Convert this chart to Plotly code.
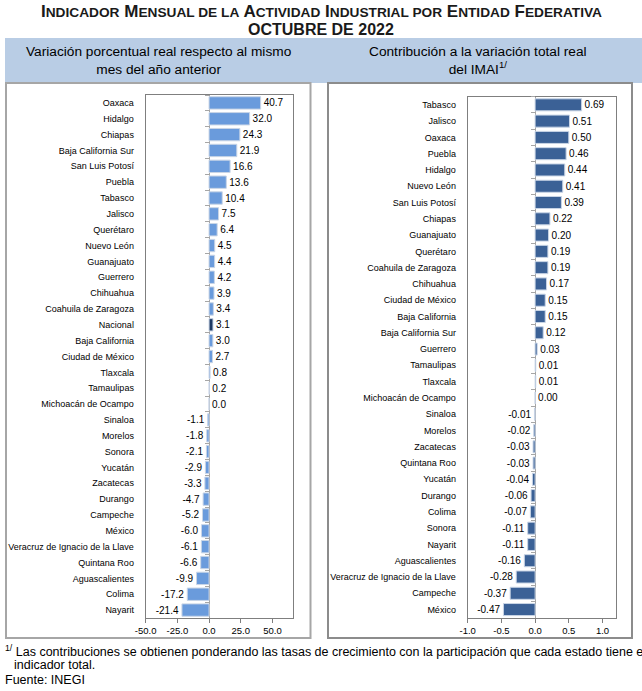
import plotly.graph_objects as go

# ---------------- data ----------------
left_states = ["Oaxaca", "Hidalgo", "Chiapas", "Baja California Sur", "San Luis Potosí",
               "Puebla", "Tabasco", "Jalisco", "Querétaro", "Nuevo León", "Guanajuato",
               "Guerrero", "Chihuahua", "Coahuila de Zaragoza", "Nacional", "Baja California",
               "Ciudad de México", "Tlaxcala", "Tamaulipas", "Michoacán de Ocampo", "Sinaloa",
               "Morelos", "Sonora", "Yucatán", "Zacatecas", "Durango", "Campeche", "México",
               "Veracruz de Ignacio de la Llave", "Quintana Roo", "Aguascalientes", "Colima",
               "Nayarit"]
left_values = [40.7, 32.0, 24.3, 21.9, 16.6, 13.6, 10.4, 7.5, 6.4, 4.5, 4.4, 4.2, 3.9, 3.4,
               3.1, 3.0, 2.7, 0.8, 0.2, 0.0, -1.1, -1.8, -2.1, -2.9, -3.3, -4.7, -5.2, -6.0,
               -6.1, -6.6, -9.9, -17.2, -21.4]

right_states = ["Tabasco", "Jalisco", "Oaxaca", "Puebla", "Hidalgo", "Nuevo León",
                "San Luis Potosí", "Chiapas", "Guanajuato", "Querétaro", "Coahuila de Zaragoza",
                "Chihuahua", "Ciudad de México", "Baja California", "Baja California Sur",
                "Guerrero", "Tamaulipas", "Tlaxcala", "Michoacán de Ocampo", "Sinaloa",
                "Morelos", "Zacatecas", "Quintana Roo", "Yucatán", "Durango", "Colima", "Sonora",
                "Nayarit", "Aguascalientes", "Veracruz de Ignacio de la Llave", "Campeche",
                "México"]
right_values = [0.69, 0.51, 0.50, 0.46, 0.44, 0.41, 0.39, 0.22, 0.20, 0.19, 0.19, 0.17, 0.15,
                0.15, 0.12, 0.03, 0.01, 0.01, 0.00, -0.01, -0.02, -0.03, -0.03, -0.04, -0.06,
                -0.07, -0.11, -0.11, -0.16, -0.28, -0.37, -0.47]

left_ticks = [-50, -25, 0, 25, 50]
right_ticks = [-1.0, -0.5, 0.0, 0.5, 1.0]

# ---------------- styling ----------------
W, H = 642, 691
FONT = "Liberation Sans, Arial, sans-serif"
LEFT_COLOR = "#6A9BDC"
NAC_COLOR = "#1F3A64"
RIGHT_COLOR = "#3B6196"
EDGE = "#C9D5E6"
AXIS_C = "#7F7F7F"

def px(x):
    return x / W

def py(y):
    return 1 - y / H

left_range = [-50, 66]
right_range = [-1.0, 1.2]
ldom = [px(145.7), px(292.7)]
rdom = [px(467.7), px(616.0)]
ydom_l = [py(618), py(95)]
ydom_r = [py(617.7), py(96.7)]

def zero_pos(dom, rng):
    return dom[0] + (0 - rng[0]) / (rng[1] - rng[0]) * (dom[1] - dom[0])

fig = go.Figure()

left_colors = [NAC_COLOR if s == "Nacional" else LEFT_COLOR for s in left_states]
fig.add_trace(go.Bar(
    x=left_values, y=left_states, orientation="h", xaxis="x", yaxis="y",
    marker=dict(color=left_colors, line=dict(color=EDGE, width=1)),
    width=0.78,
    text=[f"{v:.1f}" for v in left_values], textposition="outside",
    textfont=dict(size=10, color="black", family=FONT),
    cliponaxis=False, constraintext="none", hoverinfo="skip"))

fig.add_trace(go.Bar(
    x=right_values, y=right_states, orientation="h", xaxis="x2", yaxis="y2",
    marker=dict(color=RIGHT_COLOR, line=dict(color=EDGE, width=1)),
    width=0.74,
    text=[f"{v:.2f}" for v in right_values], textposition="outside",
    textfont=dict(size=10, color="black", family=FONT),
    cliponaxis=False, constraintext="none", hoverinfo="skip"))

# invisible traces carrying categories for the zero-line tick axes
fig.add_trace(go.Bar(x=left_values, y=left_states, orientation="h", xaxis="x", yaxis="y3",
                     opacity=0, hoverinfo="skip", showlegend=False))
fig.add_trace(go.Bar(x=right_values, y=right_states, orientation="h", xaxis="x2", yaxis="y4",
                     opacity=0, hoverinfo="skip", showlegend=False))

xcommon = dict(showline=True, linecolor=AXIS_C, linewidth=1, mirror=True, ticks="outside",
               ticklen=4, tickcolor=AXIS_C, zeroline=True, zerolinecolor="#A6A6A6",
               zerolinewidth=1, showgrid=False, automargin=False,
               tickfont=dict(size=9.5, color="black", family=FONT), fixedrange=True)
ycommon = dict(type="category", categoryorder="array", autorange="reversed", showline=True,
               linecolor=AXIS_C, linewidth=1, mirror=True, ticks="", showgrid=False,
               zeroline=False, ticklabelstandoff=9, automargin=False,
               tickfont=dict(size=9, color="black", family=FONT), fixedrange=True)
ytickax = dict(type="category", categoryorder="array", autorange="reversed", anchor="free",
               tickson="boundaries", ticks="outside", ticklen=4, tickcolor="#A6A6A6",
               showticklabels=False, showline=False, showgrid=False, zeroline=False,
               side="left", fixedrange=True, automargin=False)

fig.update_layout(
    width=W, height=H, autosize=False,
    margin=dict(l=0, r=0, t=0, b=0, pad=0, autoexpand=False),
    paper_bgcolor="white", plot_bgcolor="rgba(0,0,0,0)", showlegend=False,
    font=dict(family=FONT, color="black"),
    xaxis=dict(domain=ldom, range=left_range, tickvals=left_ticks,
               ticktext=[f"{v:.1f}" for v in left_ticks], anchor="y", **xcommon),
    xaxis2=dict(domain=rdom, range=right_range, tickvals=right_ticks,
                ticktext=[f"{v:.1f}" for v in right_ticks], anchor="y2", **xcommon),
    yaxis=dict(domain=ydom_l, anchor="x", categoryarray=left_states, **ycommon),
    yaxis2=dict(domain=ydom_r, anchor="x2", categoryarray=right_states, **ycommon),
    yaxis3=dict(overlaying="y", position=zero_pos(ldom, left_range),
                categoryarray=left_states, **ytickax),
    yaxis4=dict(overlaying="y2", position=zero_pos(rdom, right_range),
                categoryarray=right_states, **ytickax),
)

shapes = [
    dict(type="rect", xref="paper", yref="paper", x0=px(5), x1=px(642), y0=py(83), y1=py(38),
         fillcolor="#B9CDE5", line=dict(width=0), layer="below"),
    dict(type="rect", xref="paper", yref="paper", x0=px(6), x1=px(310.5), y0=py(638), y1=py(83),
         fillcolor="white", line=dict(color="#A6A6A6", width=2), layer="below"),
    dict(type="rect", xref="paper", yref="paper", x0=px(328), x1=px(632), y0=py(638), y1=py(83),
         fillcolor="white", line=dict(color="#8C8C8C", width=2), layer="below"),
]

S = "<span style='font-size:13.7px'>"
E = "</span>"
title1 = ("<b>I" + S + "NDICADOR" + E + " M" + S + "ENSUAL DE LA" + E + " A" + S + "CTIVIDAD" + E +
          " I" + S + "NDUSTRIAL POR" + E + " E" + S + "NTIDAD" + E + " F" + S + "EDERATIVA" + E + "</b>")
title2 = "<b>OCTUBRE DE 2022</b>"

annotations = [
    dict(text=title1, x=px(321), y=py(12), xref="paper", yref="paper", showarrow=False,
         xanchor="center", yanchor="middle", font=dict(size=17, family=FONT, color="#1a1a1a")),
    dict(text=title2, x=px(321), y=py(29.5), xref="paper", yref="paper", showarrow=False,
         xanchor="center", yanchor="middle", font=dict(size=16, family=FONT, color="#1a1a1a")),
    dict(text="Variación porcentual real respecto al mismo<br>mes del año anterior",
         x=px(159), y=py(60.5), xref="paper", yref="paper", showarrow=False,
         xanchor="center", yanchor="middle", font=dict(size=13.7, family=FONT, color="black")),
    dict(text="Contribución a la variación total real<br>del IMAI<sup>1/</sup>",
         x=px(478), y=py(60.5), xref="paper", yref="paper", showarrow=False,
         xanchor="center", yanchor="middle", font=dict(size=13.7, family=FONT, color="black")),
    dict(text="<sup>1/</sup> Las contribuciones se obtienen ponderando las tasas de crecimiento con la participación que cada estado tiene en el",
         x=px(3), y=py(651), xref="paper", yref="paper", showarrow=False,
         xanchor="left", yanchor="middle", font=dict(size=12.5, family=FONT, color="black")),
    dict(text="indicador total.", x=px(12), y=py(665), xref="paper", yref="paper",
         showarrow=False, xanchor="left", yanchor="middle",
         font=dict(size=12.5, family=FONT, color="black")),
    dict(text="Fuente: INEGI", x=px(3), y=py(680), xref="paper", yref="paper",
         showarrow=False, xanchor="left", yanchor="middle",
         font=dict(size=12.5, family=FONT, color="black")),
]

fig.update_layout(shapes=shapes, annotations=annotations)
fig.write_html("out.html", config={"displayModeBar": False},
               post_script="document.body.style.margin='0';")
